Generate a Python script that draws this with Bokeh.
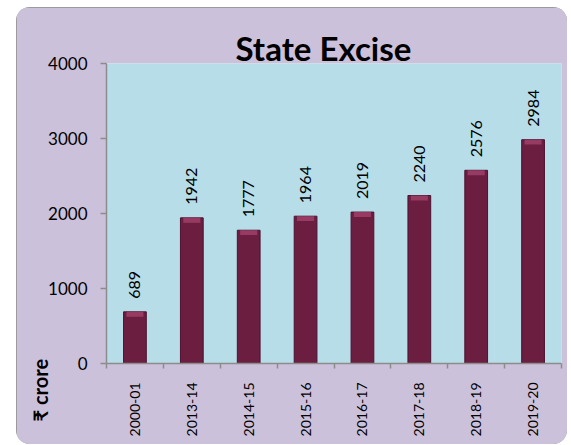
import math
from bokeh.plotting import figure
from bokeh.models import (ColumnDataSource, Range1d, LinearAxis,
                          FixedTicker, LabelSet, Title)
from bokeh.core.properties import value
from bokeh.embed import file_html
from bokeh.resources import INLINE

years = ["2000-01", "2013-14", "2014-15", "2015-16", "2016-17", "2017-18", "2018-19", "2019-20"]
revenue = [689, 1942, 1777, 1964, 2019, 2240, 2576, 2984]
y_ticks = [0, 1000, 2000, 3000, 4000]
title_text = "State Excise"
unit_text = "₹ crore"

PURPLE = "#CCC1DA"
CYAN = "#B7DDE8"
BAR = "#6B1E40"
BAR_TOP = "#A5456F"
AXIS = "#8C8C8C"
FONT = "Lato"

n = len(years)
centers = [i + 0.5 for i in range(n)]
src = ColumnDataSource(dict(x=centers, top=revenue, bevel=[v - 65 for v in revenue],
                            lab=[str(v) for v in revenue]))

p = figure(width=551, height=437, output_backend="svg", toolbar_location=None,
           x_range=Range1d(0, n), y_range=Range1d(0, 4000),
           min_border_left=90, min_border_right=6, min_border_top=56, min_border_bottom=81,
           x_axis_location=None, y_axis_location="left")
p.styles = {"border-radius": "14px", "overflow": "hidden",
            "box-shadow": "inset 0 0 0 1.5px #8C8C8C"}
p.border_fill_color = PURPLE
p.background_fill_color = CYAN
p.outline_line_color = None
p.xgrid.visible = False
p.ygrid.visible = False

p.vbar(x="x", top="top", width=0.40, source=src, fill_color=BAR, line_color="#4E1230", line_width=1)
p.vbar(x="x", top="top", bottom="bevel", width=0.30, source=src, fill_color=BAR_TOP,
       line_color=None, fill_alpha=0.75)

# y axis
ya = p.yaxis[0]
ya.ticker = FixedTicker(ticks=y_ticks, minor_ticks=[])
ya.axis_line_color = AXIS
ya.axis_line_width = 1.5
ya.major_tick_line_color = AXIS
ya.major_tick_line_width = 1.5
ya.major_tick_in = 0
ya.major_tick_out = 6
ya.major_label_text_font = FONT
ya.major_label_text_font_size = "17px"
ya.major_label_text_color = "#000000"
ya.major_label_standoff = 13

# x tick marks at category edges
ea = LinearAxis(ticker=FixedTicker(ticks=list(range(n + 1)), minor_ticks=[]))
ea.axis_line_color = AXIS
ea.axis_line_width = 1.5
ea.major_tick_line_color = AXIS
ea.major_tick_line_width = 1.5
ea.major_tick_in = 0
ea.major_tick_out = 5
ea.major_label_text_font_size = "1px"
ea.major_label_text_color = None
ea.major_label_standoff = 0
p.add_layout(ea, "below")

# category labels at centers
xa = LinearAxis(ticker=FixedTicker(ticks=centers, minor_ticks=[]),
                major_label_overrides={c: y for c, y in zip(centers, years)})
xa.axis_line_color = None
xa.major_tick_line_color = None
xa.major_label_orientation = math.pi / 2
xa.major_label_text_font = FONT
xa.major_label_text_font_size = "14px"
xa.major_label_text_color = "#000000"
xa.major_label_standoff = 8
p.add_layout(xa, "below")

labels = LabelSet(x="x", y="top", text="lab", source=src, angle=math.pi / 2,
                  text_align="left", text_baseline="middle", y_offset=13,
                  text_font=value(FONT), text_font_size="16px", text_color="#000000")
p.add_layout(labels)

p.add_layout(Title(text=title_text, align="left", offset=129, standoff=-8,
                   text_font=FONT, text_font_style="bold", text_font_size="33px",
                   text_color="#000000"), "above")
p.add_layout(Title(text=unit_text, align="left", offset=-58, standoff=-12,
                   text_font=FONT, text_font_style="bold", text_font_size="20px",
                   text_color="#000000"), "left")

html = file_html(p, INLINE)
html = html.replace("</head>", "<style>body{margin:7px 0 0 16px;}</style></head>", 1)
open("out.html", "w").write(html)
